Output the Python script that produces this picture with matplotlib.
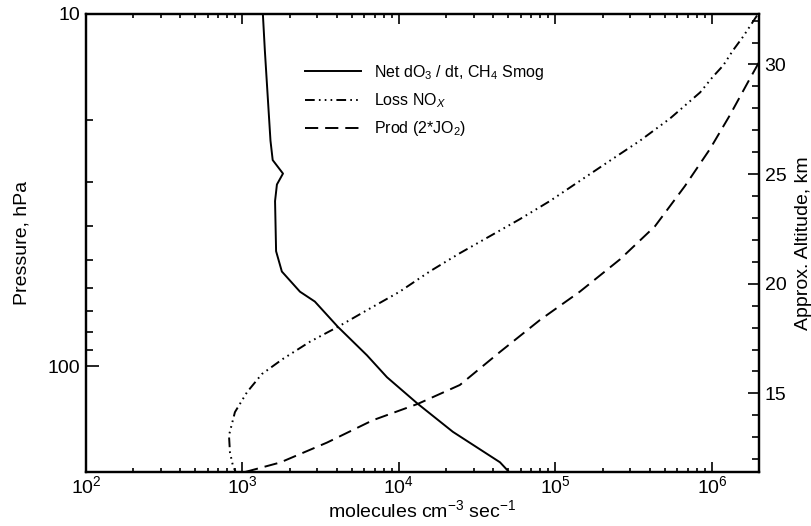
import numpy as np
import matplotlib
matplotlib.use("Agg")
import matplotlib.pyplot as plt
from matplotlib.ticker import LogLocator, MultipleLocator, NullFormatter, FixedLocator, FixedFormatter

plt.rcParams["font.family"] = ["Liberation Sans", "DejaVu Sans"]
plt.rcParams["mathtext.fontset"] = "custom"
plt.rcParams["mathtext.rm"] = "Liberation Sans"
plt.rcParams["mathtext.it"] = "Liberation Sans:italic"
plt.rcParams["mathtext.bf"] = "Liberation Sans:bold"
plt.rcParams["lines.scale_dashes"] = False

# ------------------------------------------------------
# profiles: pressure (hPa) vs rate (molecules cm-3 s-1)
# ------------------------------------------------------
net_p = [10, 12.7, 17.6, 22.9, 26.0, 28.4, 30.5, 34.0, 47.2, 53.9, 61.5,
         65.6, 77.4, 93.2, 107.6, 128.1, 153.8, 187.7, 200]
net_rate = [1350, 1390, 1455, 1510, 1560, 1815, 1660, 1615, 1640, 1785, 2330,
            2900, 4070, 6240, 8380, 13200, 22100, 44200, 50500]

nox_p = [10.1, 11.6, 12.7, 14.0, 15.1, 16.7, 19.8, 22.9, 26.1, 29.8, 34.0,
         38.3, 42.8, 47.8, 53.8, 61.5, 68.7, 77.4, 85.3, 95.5, 105.4, 118.6,
         135.2, 157.4, 176, 192, 200]
nox_rate = [1.94e6, 1.58e6, 1.36e6, 1.18e6, 1.01e6, 8.4e5, 5.4e5, 3.47e5,
            2.23e5, 1.43e5, 9.2e4, 5.9e4, 3.8e4, 2.45e4, 1.58e4, 1.01e4,
            6.5e3, 4.07e3, 2.7e3, 1.81e3, 1.33e3, 1.07e3, 895, 820, 832,
            869, 905]

prod_p = [200, 188, 165, 142.6, 128.1, 113.2, 91.2, 74.0, 61.5, 49.8, 40.1,
          30.8, 24.2, 19.4, 15.6, 13.7]
prod_rate = [1.04e3, 1.74e3, 3.47e3, 6.8e3, 1.32e4, 2.45e4, 4.42e4, 7.96e4,
             1.43e5, 2.58e5, 4.32e5, 6.72e5, 9.7e5, 1.3e6, 1.7e6, 2.0e6]

p_top, p_bottom = 10, 200
x_min, x_max = 1e2, 2e6


def p2z(p):
    # approximate altitude (km) from pressure (hPa)
    return 32.3 - 16.05 * np.log10(np.asarray(p) / 10.0)


fig = plt.figure(figsize=(8.11, 5.26), dpi=100)
ax = fig.add_axes([0.106, 0.1027, 0.830, 0.8707])

ax.plot(net_rate, net_p, color="black", lw=1.4,
        label=r"Net dO$_3$ / dt, CH$_4$ Smog")
ax.plot(nox_rate, nox_p, color="black", lw=1.4,
        dashes=(7, 3, 1.2, 3, 1.2, 3, 1.2, 3), label=r"Loss NO$_X$")
ax.plot(prod_rate, prod_p, color="black", lw=1.4,
        dashes=(9.5, 5), label=r"Prod (2*JO$_2$)")

ax.set_xscale("log")
ax.set_yscale("log")
ax.set_xlim(x_min, x_max)
ax.set_ylim(p_bottom, p_top)

ax.xaxis.set_major_locator(LogLocator(base=10))
ax.xaxis.set_minor_locator(LogLocator(base=10, subs=np.arange(2, 10)))
ax.xaxis.set_minor_formatter(NullFormatter())

ax.yaxis.set_major_locator(FixedLocator([10, 100]))
ax.yaxis.set_major_formatter(FixedFormatter(["10", "100"]))
ax.yaxis.set_minor_locator(LogLocator(base=10, subs=np.arange(2, 10)))
ax.yaxis.set_minor_formatter(NullFormatter())

ax.tick_params(which="both", direction="in", top=True, right=False,
               labelsize=14, width=1.2)
ax.tick_params(axis="x", which="major", length=7, pad=2)
ax.tick_params(axis="x", which="minor", length=3.2)
ax.tick_params(axis="y", which="major", length=9, pad=4)
ax.tick_params(axis="y", which="minor", length=5)
for s in ax.spines.values():
    s.set_linewidth(1.6)

ax.set_xlabel(r"molecules cm$^{-3}$ sec$^{-1}$", fontsize=14, labelpad=2)
ax.set_ylabel("Pressure, hPa", fontsize=14)
ax.yaxis.set_label_coords(-0.083, 0.5)

# altitude scale on the right
ax2 = ax.twinx()
ax2.set_ylim(p2z(p_bottom), p2z(p_top))
ax2.yaxis.set_major_locator(MultipleLocator(5))
ax2.yaxis.set_minor_locator(MultipleLocator(1))
ax2.tick_params(which="both", direction="in", labelsize=14, width=1.2, pad=4)
ax2.tick_params(which="major", length=8)
ax2.tick_params(which="minor", length=5)
ax2.set_ylabel("Approx. Altitude, km", fontsize=14, labelpad=6)
for s in ax2.spines.values():
    s.set_linewidth(1.6)

ax.legend(loc="upper left", bbox_to_anchor=(0.316, 0.908), frameon=False,
          fontsize=11.5, handlelength=3.5, handletextpad=0.8,
          labelspacing=0.6, borderaxespad=0)

fig.savefig("out.png", dpi=100)
